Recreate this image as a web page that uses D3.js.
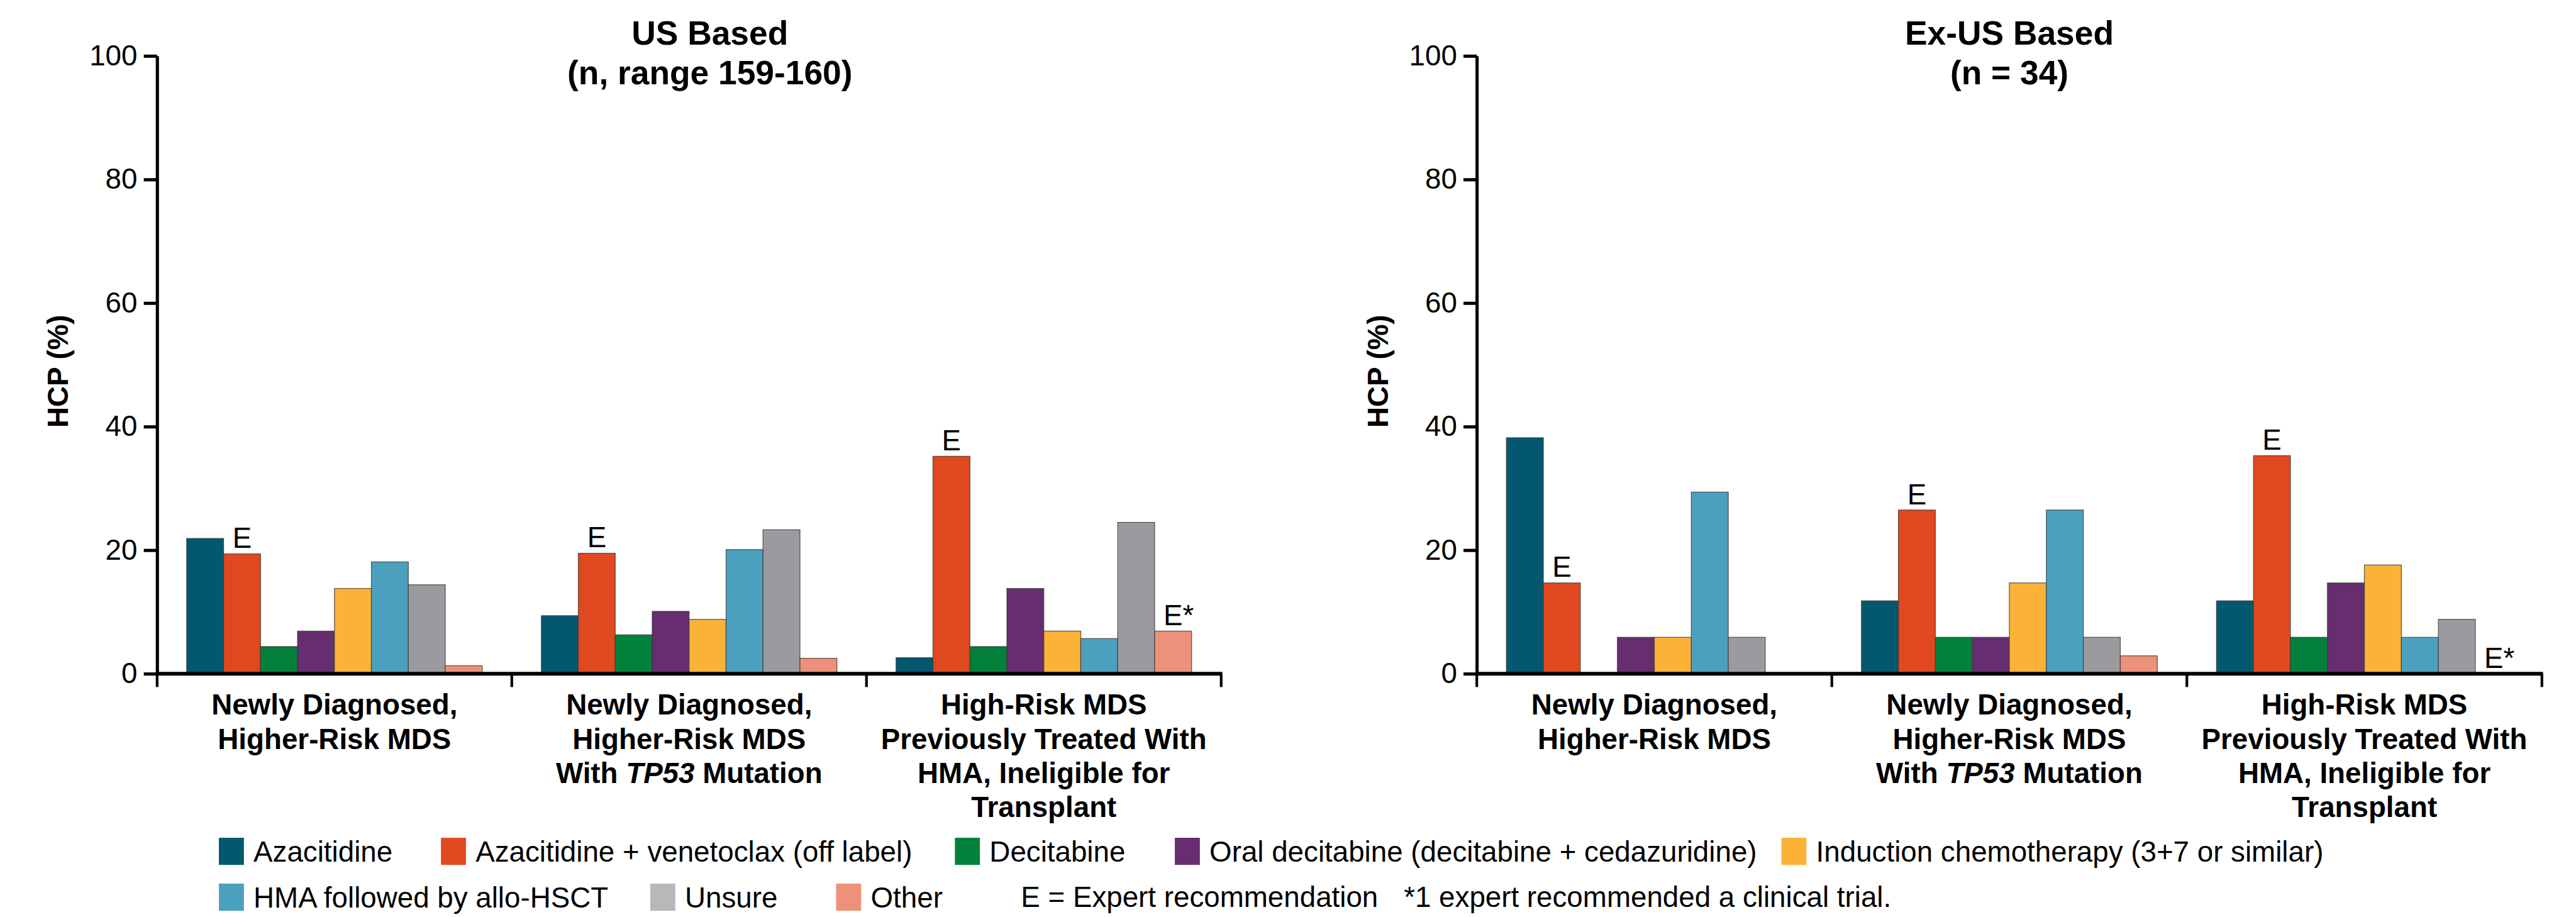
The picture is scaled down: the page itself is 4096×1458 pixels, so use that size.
<!DOCTYPE html>
<html>
<head>
<meta charset="utf-8">
<script src="https://cdn.jsdelivr.net/npm/d3@7"></script>
<style>
  html, body { margin: 0; padding: 0; background: #fff; }
  svg { display: block; }
  text { font-family: "Liberation Sans", Arial, Helvetica, sans-serif; fill: #000; }
</style>
</head>
<body>
<svg id="chart" width="4096" height="1458"></svg>
<script>
// ---------------- DATA ----------------
const categories = [
  ["Newly Diagnosed,", "Higher-Risk MDS"],
  ["Newly Diagnosed,", "Higher-Risk MDS", "With _TP53_ Mutation"],
  ["High-Risk MDS", "Previously Treated With", "HMA, Ineligible for", "Transplant"]
];
const seriesNames = [
  "Azacitidine",
  "Azacitidine + venetoclax (off label)",
  "Decitabine",
  "Oral decitabine (decitabine + cedazuridine)",
  "Induction chemotherapy (3+7 or similar)",
  "HMA followed by allo-HSCT",
  "Unsure",
  "Other"
];
const seriesColors = ["#03586f", "#e0491f", "#02803c", "#662d6f", "#fbb237", "#4ba1bd", "#9b9a9f", "#ee917a"];
const legendColors = ["#03586f", "#e0491f", "#02803c", "#662d6f", "#fbb237", "#4ba1bd", "#b8b8ba", "#ee917a"];

// values per category, in series order
const usValues = [
  [21.9, 19.4, 4.4, 6.9, 13.8, 18.1, 14.4, 1.3],
  [9.4, 19.5, 6.3, 10.1, 8.8, 20.1, 23.3, 2.5],
  [2.6, 35.2, 4.4, 13.8, 6.9, 5.7, 24.5, 6.9]
];
const exUsValues = [
  [38.2, 14.7, 0, 5.9, 5.9, 29.4, 5.9, 0],
  [11.8, 26.5, 5.9, 5.9, 14.7, 26.5, 5.9, 2.9],
  [11.8, 35.3, 5.9, 14.7, 17.6, 5.9, 8.8, 0]
];
const panelTitles = [["US Based", "(n, range 159-160)"], ["Ex-US Based", "(n = 34)"]];
const yTicks = [0, 20, 40, 60, 80, 100];
const yLabel = "HCP (%)";
// annotations: [category index, series index, text]
const annotations = [[0, 1, "E"], [1, 1, "E"], [2, 1, "E"], [2, 7, "E*"]];
const legendNotes = ["E = Expert recommendation", "*1 expert recommended a clinical trial."];

// ---------------- LAYOUT (reference pixel space) ----------------
const S = 4096 / 4837;
const panels = [
  { x0: 295, x1: 2293, titleX: 1333, values: usValues },
  { x0: 2773, x1: 4773, titleX: 3773, values: exUsValues }
];
const legendRows = [
  { y: 1573, items: [[0, 411], [1, 828], [2, 1793], [3, 2206], [4, 3345]] },
  { y: 1659, items: [[5, 411], [6, 1221], [7, 1570]] }
];
const noteX = [1917, 2636];

const svg = d3.select("#chart");
const root = svg.append("g").attr("transform", `scale(${S})`);

const y = d3.scaleLinear().domain([0, 100]).range([1265, 105]);

panels.forEach((p, pi) => {
  const g = root.append("g");
  const xg = d3.scaleBand().domain(d3.range(categories.length)).range([p.x0, p.x1]).padding(0);
  const xs = d3.scaleBand().domain(d3.range(seriesNames.length)).range([0, xg.bandwidth()])
    .paddingInner(0).paddingOuter(0.8);

  // titles
  g.append("text").attr("x", p.titleX).attr("y", 84).attr("text-anchor", "middle")
    .attr("font-size", 63).attr("font-weight", "bold").text(panelTitles[pi][0]);
  g.append("text").attr("x", p.titleX).attr("y", 158).attr("text-anchor", "middle")
    .attr("font-size", 63).attr("font-weight", "bold").text(panelTitles[pi][1]);

  // y label
  g.append("text").attr("transform", `translate(${p.x0 - 167},697) rotate(-90)`)
    .attr("text-anchor", "middle").attr("font-size", 54).attr("font-weight", "bold").text(yLabel);

  // bars
  p.values.forEach((vals, ci) => {
    g.append("g").selectAll("rect").data(vals).join("rect")
      .attr("x", (d, si) => xg(ci) + xs(si))
      .attr("y", d => y(d))
      .attr("width", xs.bandwidth())
      .attr("height", d => Math.max(0, y(0) - y(d)))
      .attr("fill", (d, si) => seriesColors[si])
      .attr("stroke", "#3a3a3a").attr("stroke-opacity", 0.8).attr("stroke-width", 1.5)
      .style("display", d => d > 0 ? null : "none");
  });

  // annotations
  annotations.forEach(([ci, si, t]) => {
    const v = p.values[ci][si];
    const cx = xg(ci) + xs(si) + xs.bandwidth() / 2;
    const tx = g.append("text").attr("y", y(v) - 11).attr("font-size", 54);
    if (t === "E") {
      tx.attr("x", cx).attr("text-anchor", "middle").text(t);
    } else {
      tx.attr("x", cx - 18).attr("text-anchor", "start").text(t);
    }
  });

  // y axis
  const ya = g.append("g").attr("transform", `translate(${p.x0},0)`)
    .call(d3.axisLeft(y).tickValues(yTicks).tickSize(25).tickSizeOuter(0).tickPadding(12));
  ya.select(".domain").attr("stroke", "#000").attr("stroke-width", 6);
  ya.selectAll(".tick line").attr("stroke", "#000").attr("stroke-width", 6);
  ya.selectAll(".tick text").attr("font-size", 54).attr("font-family", null).attr("fill", "#000");
  ya.attr("font-family", null);

  // x baseline + boundary ticks
  g.append("line").attr("x1", p.x0).attr("x2", p.x1 + 2).attr("y1", y(0)).attr("y2", y(0))
    .attr("stroke", "#000").attr("stroke-width", 7);
  const bounds = xg.domain().map(d => xg(d)).concat([p.x1]);
  g.append("g").selectAll("line").data(bounds).join("line")
    .attr("x1", d => d).attr("x2", d => d).attr("y1", y(0)).attr("y2", y(0) + 25)
    .attr("stroke", "#000").attr("stroke-width", 5);

  // category labels
  categories.forEach((lines, ci) => {
    const cx = xg(ci) + xg.bandwidth() / 2;
    lines.forEach((line, li) => {
      const t = g.append("text").attr("x", cx).attr("y", 1342 + li * 64)
        .attr("text-anchor", "middle").attr("font-size", 54).attr("font-weight", "bold");
      line.split("_").forEach((seg, k) => {
        if (seg === "") return;
        t.append("tspan").attr("font-style", k % 2 === 1 ? "italic" : "normal").text(seg);
      });
    });
  });
});

// legend
legendRows.forEach(row => {
  row.items.forEach(([si, x]) => {
    root.append("rect").attr("x", x).attr("y", row.y).attr("width", 47).attr("height", 51)
      .attr("fill", legendColors[si]);
    root.append("text").attr("x", x + 65).attr("y", row.y + 45).attr("font-size", 54).text(seriesNames[si]);
  });
});
legendNotes.forEach((t, i) => {
  root.append("text").attr("x", noteX[i]).attr("y", legendRows[1].y + 44).attr("font-size", 54).text(t);
});
</script>
</body>
</html>
